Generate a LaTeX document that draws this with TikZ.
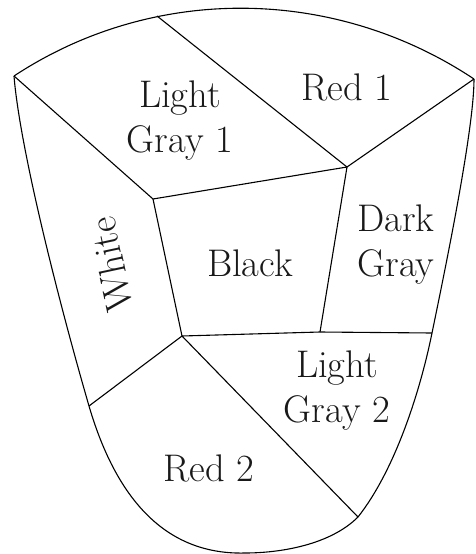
\documentclass[tikz,border=0pt]{standalone}
\usepackage{fontspec}
\begin{document}
\begin{tikzpicture}[x=1pt,y=-1pt,line join=round,
  edge/.style={line width=1.1pt,black},
  lbl/.style={inner sep=0pt,align=center,font=\fontsize{38.5}{45}\selectfont,text=black!90}]
\useasboundingbox (0,0) rectangle (475,554);
% vertices
\coordinate (A) at (14,76);
\coordinate (B) at (474,79);
\coordinate (P) at (157,16);
\coordinate (C) at (347,167);
\coordinate (D) at (153,199);
\coordinate (E) at (182,336);
\coordinate (F) at (320,332);
\coordinate (G) at (432,333);
\coordinate (H) at (89,406);
\coordinate (I) at (358,517);
\coordinate (L) at (245,553);
% outline
\draw[edge] (A) .. controls (153.7,-16) and (334.6,-13.7) .. (B);
\draw[edge] (B) .. controls (474,130) and (445,270) .. (G)
                .. controls (420,392) and (395,470) .. (I);
\draw[edge] (I) .. controls (330,545) and (280,553) .. (L)
                .. controls (170,555) and (118,505) .. (H)
                .. controls (60,306) and (20,150) .. (A);
% inner edges
\draw[edge] (A) -- (D);
\draw[edge] (P) -- (C);
\draw[edge] (C) -- (B);
\draw[edge] (D) -- (C);
\draw[edge] (D) -- (E);
\draw[edge] (C) -- (F);
\draw[edge] (E) -- (F) -- (G);
\draw[edge] (E) -- (H);
\draw[edge] (E) -- (I);
% labels
\node[lbl] (r1) at (347,87) {Red 1};
\node[lbl] (lg1) at (180,121) {Light\\Gray 1};
\node[lbl] (dg) at (396,245) {Dark\\Gray};
\node[lbl] (bl) at (250,263) {Black};
\node[lbl,rotate=102] (wh) at (111,265) {White};
\node[lbl] (lg2) at (337,391) {Light\\Gray 2};
\node[lbl] (r2) at (209,468) {Red 2};
\end{tikzpicture}
\end{document}
